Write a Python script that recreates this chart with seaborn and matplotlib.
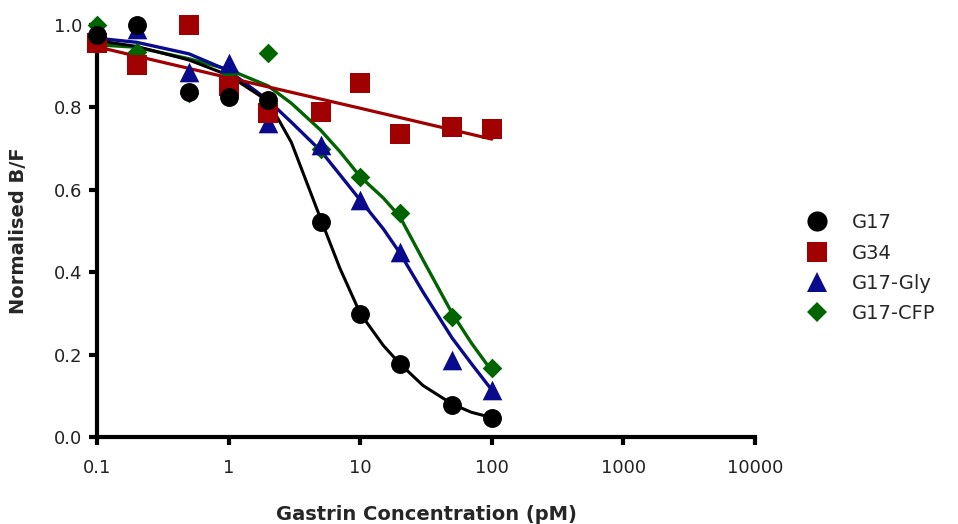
import matplotlib
matplotlib.use("Agg")
import matplotlib.pyplot as plt
from matplotlib.lines import Line2D
import seaborn as sns
import pandas as pd

# ---- data ----
conc = [0.1, 0.2, 0.5, 1, 2, 5, 10, 20, 50, 100]
g17 = [0.976, 1.0, 0.838, 0.826, 0.818, 0.522, 0.299, 0.178, 0.078, 0.046]
g34 = [0.956, 0.903, 1.0, 0.852, 0.786, 0.789, 0.859, 0.735, 0.752, 0.748]
g17_gly = [0.970, 0.990, 0.886, 0.907, 0.762, 0.709, 0.575, 0.449, 0.187, 0.114]
g17_cfp = [1.0, 0.935, 0.835, 0.885, 0.932, 0.700, 0.631, 0.544, 0.291, 0.167]

# fitted curves
fit_x = [0.1, 0.2, 0.5, 1, 2, 3, 5, 7, 10, 15, 20, 30, 50, 70, 100]
g17_fit = [0.962, 0.948, 0.915, 0.878, 0.815, 0.715, 0.530, 0.410, 0.300, 0.222, 0.178, 0.125, 0.080, 0.060, 0.047]
gly_fit = [0.968, 0.958, 0.930, 0.889, 0.817, 0.764, 0.695, 0.637, 0.575, 0.505, 0.447, 0.352, 0.240, 0.178, 0.114]
cfp_fit = [0.952, 0.946, 0.918, 0.892, 0.852, 0.810, 0.745, 0.693, 0.632, 0.580, 0.535, 0.430, 0.300, 0.228, 0.160]
g34_fit_x = [0.1, 1, 10, 100]
g34_fit = [0.947, 0.872, 0.798, 0.723]

series_names = ["G17", "G34", "G17-Gly", "G17-CFP"]
x_ticks = [0.1, 1, 10, 100, 1000, 10000]
x_tick_labels = ["0.1", "1", "10", "100", "1000", "10000"]
y_ticks = [0.0, 0.2, 0.4, 0.6, 0.8, 1.0]
y_tick_labels = ["0.0", "0.2", "0.4", "0.6", "0.8", "1.0"]

# ---- style ----
sns.set_style("ticks")
plt.rcParams["font.family"] = ["DejaVu Sans"]

colors = {"G17": "#000000", "G34": "#A00000", "G17-Gly": "#0A0A8C", "G17-CFP": "#006400"}
markers = {"G17": "o", "G34": "s", "G17-Gly": "^", "G17-CFP": "D"}
msize = {"G17": 185, "G34": 190, "G17-Gly": 200, "G17-CFP": 100}
lw_fit = {"G17": 2.2, "G34": 2.3, "G17-Gly": 2.4, "G17-CFP": 2.4}

pts = {"G17": g17, "G34": g34, "G17-Gly": g17_gly, "G17-CFP": g17_cfp}
fits = {"G17": (fit_x, g17_fit), "G34": (g34_fit_x, g34_fit),
        "G17-Gly": (fit_x, gly_fit), "G17-CFP": (fit_x, cfp_fit)}

fig = plt.figure(figsize=(9.58, 5.24), dpi=100)
ax = fig.add_axes([97 / 958, 1 - 437 / 524, (755 - 97) / 958, (437 - 25) / 524])

draw_order = ["G17-CFP", "G17-Gly", "G34", "G17"]

for name in draw_order:
    fx, fy = fits[name]
    df_fit = pd.DataFrame({"x": fx, "y": fy})
    sns.lineplot(data=df_fit, x="x", y="y", ax=ax, color=colors[name],
                 linewidth=lw_fit[name], estimator=None, sort=False, zorder=2)

for i, name in enumerate(draw_order):
    df = pd.DataFrame({"x": conc, "y": pts[name]})
    sns.scatterplot(data=df, x="x", y="y", ax=ax, color=colors[name],
                    marker=markers[name], s=msize[name], linewidth=0,
                    clip_on=False, zorder=3 + i)

ax.set_xscale("log")
ax.set_xlim(0.1, 10000)
ax.set_ylim(0, 1.0)
ax.set_xticks(x_ticks)
ax.set_xticklabels(x_tick_labels)
ax.xaxis.set_minor_locator(matplotlib.ticker.NullLocator())
ax.set_yticks(y_ticks)
ax.set_yticklabels(y_tick_labels)

for sp in ["top", "right"]:
    ax.spines[sp].set_visible(False)
for sp in ["left", "bottom"]:
    ax.spines[sp].set_linewidth(3.0)
    ax.spines[sp].set_color("black")

ax.tick_params(axis="both", which="major", length=5.5, width=3.0, color="black",
               labelsize=13, labelcolor="#222222")
ax.tick_params(axis="x", pad=10)
ax.tick_params(axis="y", pad=5)

ax.set_xlabel("Gastrin Concentration (pM)", fontsize=14, fontweight="bold")
ax.set_ylabel("Normalised B/F", fontsize=14, fontweight="bold")
ax.xaxis.set_label_coords(0.5, -0.165)
ax.yaxis.set_label_coords(-0.105, 0.5)

handles = [Line2D([], [], linestyle="none", marker=markers[n], color=colors[n],
                  markersize=(14.5 if n != "G17-CFP" else 10.5), markeredgewidth=0)
           for n in series_names]
fig.legend(handles, series_names, loc="upper left", bbox_to_anchor=(0.832, 0.593),
           frameon=False, fontsize=14, borderpad=0, borderaxespad=0,
           handlelength=2.0, handletextpad=0.8, labelspacing=0.58)

fig.savefig("out.png", dpi=100)
